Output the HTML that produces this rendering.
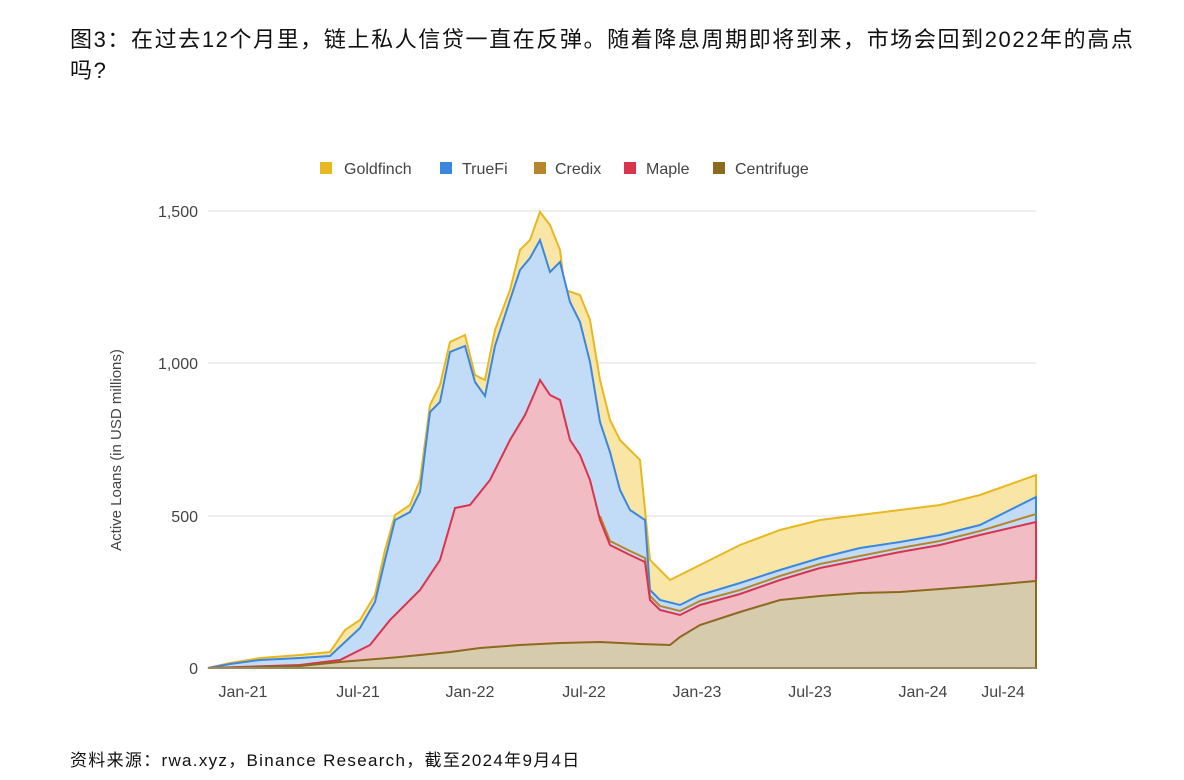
<!DOCTYPE html><html><head><meta charset="utf-8"><style>
body{margin:0;background:#fff;width:1184px;height:780px;overflow:hidden;font-family:"Liberation Sans","Noto Sans CJK SC",sans-serif;}
.t{position:absolute;left:70px;top:24px;font-size:22px;letter-spacing:1.6px;line-height:31px;color:#111;width:1095px}
.f{position:absolute;left:70px;top:746px;font-size:17px;letter-spacing:1.3px;color:#111;white-space:nowrap}
</style></head><body>
<div class="t">图3：在过去12个月里，链上私人信贷一直在反弹。随着降息周期即将到来，市场会回到2022年的高点吗?</div>
<svg width="1184" height="780" style="position:absolute;left:0;top:0" font-family="Liberation Sans, sans-serif">
<g fill="#444" font-size="16">
<rect x="320" y="162" width="12" height="12" fill="#e8b820"/><text x="344" y="174">Goldfinch</text>
<rect x="440" y="162" width="12" height="12" fill="#3b87e0"/><text x="462" y="174">TrueFi</text>
<rect x="534" y="162" width="12" height="12" fill="#b8862a"/><text x="555" y="174">Credix</text>
<rect x="624" y="162" width="12" height="12" fill="#d9334d"/><text x="646" y="174">Maple</text>
<rect x="713" y="162" width="12" height="12" fill="#8b6a1e"/><text x="735" y="174">Centrifuge</text>
</g>
<g stroke="#ddd" stroke-width="1"><line x1="208" x2="1036" y1="211" y2="211"/><line x1="208" x2="1036" y1="363" y2="363"/><line x1="208" x2="1036" y1="516" y2="516"/></g>
<g font-size="16" fill="#444" text-anchor="end"><text x="198" y="217">1,500</text><text x="198" y="369">1,000</text><text x="198" y="522">500</text><text x="198" y="674">0</text></g>
<text transform="translate(121,450) rotate(-90)" text-anchor="middle" font-size="15" fill="#444">Active Loans (in USD millions)</text>
<g font-size="16" fill="#444" text-anchor="middle"><text x="243" y="697">Jan-21</text><text x="358" y="697">Jul-21</text><text x="470" y="697">Jan-22</text><text x="584" y="697">Jul-22</text><text x="697" y="697">Jan-23</text><text x="810" y="697">Jul-23</text><text x="923" y="697">Jan-24</text><text x="1003" y="697">Jul-24</text></g>
<polygon fill="#f9e6a6" stroke="#e8b820" stroke-width="2" points="208,668 230,663 260,658 300,655 330,652 345,630 360,620 375,595 385,550 395,515 410,505 420,480 430,405 440,385 450,342 465,335 475,375 485,380 495,330 510,290 520,250 530,240 540,212 550,225 560,250 565,290 580,295 590,320 600,380 610,420 620,440 630,450 640,460 650,560 670,580 700,565 740,545 780,530 820,520 860,515 900,510 940,505 980,495 1036,475 1036,668"/>
<polygon fill="#c2dcf7" stroke="#3b87e0" stroke-width="2" points="208,668 230,664 260,660 300,658 330,656 345,642 360,628 375,602 385,560 395,520 410,512 420,492 430,412 440,402 450,352 465,346 475,382 485,396 495,346 510,300 520,270 530,258 540,240 550,272 560,262 570,302 580,322 590,362 600,422 610,452 620,490 630,510 645,520 650,590 660,600 680,605 700,595 740,583 780,570 820,558 860,548 900,542 940,535 980,525 1036,497 1036,580 1036,668"/>
<polyline fill="none" stroke="#b8862a" stroke-width="2" points="600,516 610,541 630,551 645,558 650,596 660,606 680,611 700,601 740,590 780,576 820,564 860,556 900,548 940,541 980,531 1036,514"/>
<polygon fill="#f2bcc5" stroke="#d9334d" stroke-width="2" points="208,668 300,665 340,660 370,645 390,620 420,590 440,560 455,508 470,505 490,480 510,440 525,415 535,392 540,380 550,395 560,400 570,440 580,455 590,480 600,520 610,545 630,555 645,562 650,600 660,610 680,615 700,605 740,594 780,580 820,568 860,560 900,552 940,545 980,535 1036,522 1036,668"/>
<polygon fill="#d6ccad" stroke="#8b6a1e" stroke-width="2" points="208,668 300,666 340,662 400,657 450,652 480,648 520,645 560,643 600,642 640,644 670,645 680,637 700,625 740,612 780,600 820,596 860,593 900,592 940,589 980,586 1036,581 1036,668"/>
<line x1="208" x2="1036" y1="668" y2="668" stroke="#aaa"/>
</svg>
<div class="f">资料来源：rwa.xyz，Binance Research，截至2024年9月4日</div>
</body></html>
